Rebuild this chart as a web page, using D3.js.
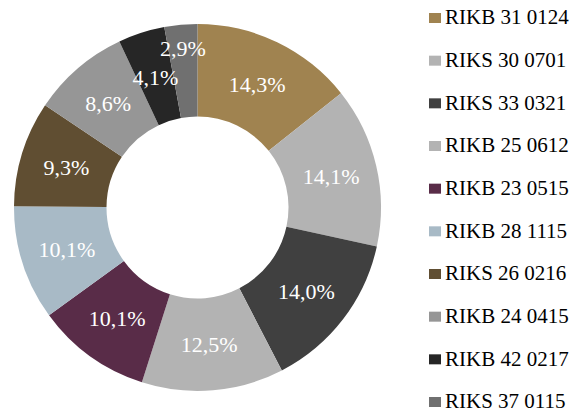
<!DOCTYPE html>
<html><head><meta charset="utf-8">
<script src="https://cdn.jsdelivr.net/npm/d3@7"></script>
<style>body{margin:0;background:#fff} text{font-family:"Liberation Serif","Times New Roman","DejaVu Serif",serif}</style>
</head><body>
<svg id="c" width="580" height="410"></svg>
<script>
const categories = ["RIKB 31 0124","RIKS 30 0701","RIKS 33 0321","RIKB 25 0612","RIKB 23 0515","RIKB 28 1115","RIKS 26 0216","RIKB 24 0415","RIKB 42 0217","RIKS 37 0115"];
const values = [14.3,14.1,14.0,12.5,10.1,10.1,9.3,8.6,4.1,2.9];
const colors = ["#A08350","#B3B3B3","#404040","#B3B3B3","#592C48","#A8BAC6","#604E32","#969696","#262626","#707070"];

const svg = d3.select("#c");
const cx = 197.5, cy = 207.5, R = 183.5, r = 91;
const g = svg.append("g").attr("transform", `translate(${cx},${cy})`);
const pie = d3.pie().sort(null).value(d => d)(values);
const arc = d3.arc().innerRadius(r).outerRadius(R);
const arcOut = d3.arc().innerRadius(R * 0.87).outerRadius(R * 0.87);
g.selectAll("path").data(pie).join("path")
  .attr("d", arc).attr("fill", (d,i) => colors[i]);
const fmt = v => v.toFixed(1).replace(".", ",") + "%";
g.selectAll("text").data(pie).join("text")
  .attr("transform", d => `translate(${(d.data < 3 ? arcOut : arc).centroid(d)})`)
  .attr("text-anchor", "middle").attr("dy", "0.35em")
  .attr("font-size", 22)
  .attr("fill", "#fff")
  .text(d => fmt(d.data));

const leg = svg.append("g");
const y = d3.scalePoint().domain(categories).range([17, 401]);
const items = leg.selectAll("g").data(categories).join("g")
  .attr("transform", d => `translate(429,${y(d)})`);
items.append("rect").attr("x", 0).attr("y", -4).attr("width", 12).attr("height", 10)
  .attr("fill", (d,i) => colors[i]);
items.append("text").attr("x", 16).attr("dy", "0.35em")
  .attr("font-size", 21)
  .attr("fill", "#000").text(d => d);
</script>
</body></html>
